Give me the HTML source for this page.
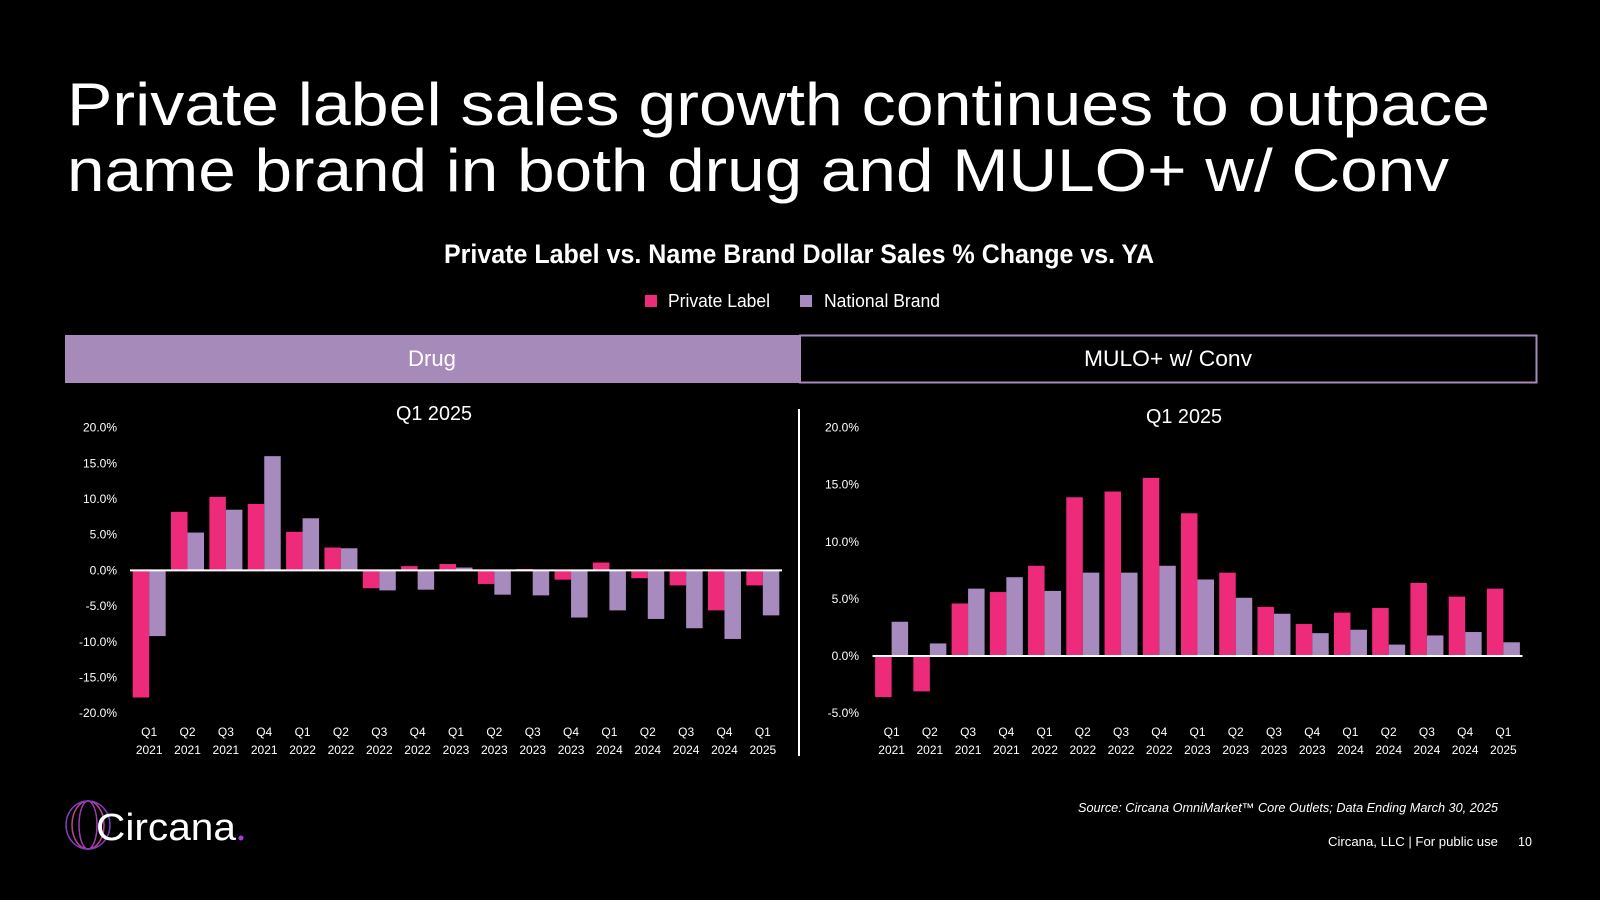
<!DOCTYPE html>
<html><head><meta charset="utf-8"><style>
html,body{margin:0;padding:0;background:#000;}
svg{display:block;}
text{font-family:"Liberation Sans",sans-serif;fill:#fff;}
</style></head><body>
<svg id="s" width="1600" height="900" viewBox="0 0 1600 900">
<rect width="1600" height="900" fill="#000"/>
<text x="67" y="125" font-size="60" textLength="1423" lengthAdjust="spacingAndGlyphs">Private label sales growth continues to outpace</text>
<text x="67" y="191" font-size="60" textLength="1382" lengthAdjust="spacingAndGlyphs">name brand in both drug and MULO+ w/ Conv</text>
<text x="799" y="263" font-size="27" font-weight="bold" text-anchor="middle" textLength="710" lengthAdjust="spacingAndGlyphs">Private Label vs. Name Brand Dollar Sales % Change vs. YA</text>
<g>
<rect x="645" y="295" width="12" height="12" fill="#ee2a7b"/>
<text x="668" y="307" font-size="18" textLength="102" lengthAdjust="spacingAndGlyphs">Private Label</text>
<rect x="800" y="295" width="12" height="12" fill="#a78bbf"/>
<text x="824" y="307" font-size="18" textLength="116" lengthAdjust="spacingAndGlyphs">National Brand</text>
</g>
<rect x="65" y="335" width="735" height="48" fill="#a68aba"/>
<text x="432" y="366" font-size="22" text-anchor="middle" textLength="48" lengthAdjust="spacingAndGlyphs">Drug</text>
<rect x="800" y="335.5" width="736.5" height="47" fill="none" stroke="#a68aba" stroke-width="2"/>
<text x="1168" y="366" font-size="22" text-anchor="middle" textLength="168" lengthAdjust="spacingAndGlyphs">MULO+ w/ Conv</text>
<line x1="799" y1="409" x2="799" y2="756" stroke="#fff" stroke-width="2"/>
<text x="434" y="420" font-size="20" text-anchor="middle" textLength="76" lengthAdjust="spacingAndGlyphs">Q1 2025</text>
<text x="1184" y="423" font-size="20" text-anchor="middle" textLength="76" lengthAdjust="spacingAndGlyphs">Q1 2025</text>
<g id="left"></g><g id="right"></g>
<text x="1498" y="812" font-size="12.5" font-style="italic" text-anchor="end" textLength="420" lengthAdjust="spacingAndGlyphs">Source: Circana OmniMarket™ Core Outlets; Data Ending March 30, 2025</text>
<text x="1498" y="846" font-size="12.5" text-anchor="end" textLength="170" lengthAdjust="spacingAndGlyphs">Circana, LLC |  For public use</text>
<text x="1525" y="846" font-size="12.5" text-anchor="middle">10</text>
<g>
<ellipse cx="88" cy="825" rx="9" ry="24" fill="none" stroke="#9b3fb0" stroke-width="1.5"/>
<ellipse cx="88" cy="825" rx="16" ry="24" fill="none" stroke="#c2408f" stroke-width="1.5"/>
<ellipse cx="88" cy="825" rx="22" ry="24" fill="none" stroke="#7a3fc0" stroke-width="1.5"/>
<text x="96" y="840" font-size="38" textLength="140" lengthAdjust="spacingAndGlyphs">Circana</text>
<circle cx="241" cy="838" r="2.5" fill="#a040e0"/>
</g>
</svg>
<script>
const categories = ["Q1 2021","Q2 2021","Q3 2021","Q4 2021","Q1 2022","Q2 2022","Q3 2022","Q4 2022","Q1 2023","Q2 2023","Q3 2023","Q4 2023","Q1 2024","Q2 2024","Q3 2024","Q4 2024","Q1 2025"];
const drugPrivate = [-17.8,8.2,10.3,9.3,5.4,3.2,-2.5,0.6,0.9,-1.9,0.2,-1.3,1.1,-1.1,-2.1,-5.6,-2.1];
const drugNational = [-9.2,5.3,8.5,16.0,7.3,3.1,-2.8,-2.7,0.4,-3.4,-3.5,-6.6,-5.6,-6.8,-8.1,-9.6,-6.3];
const muloPrivate = [-3.6,-3.1,4.6,5.6,7.9,13.9,14.4,15.6,12.5,7.3,4.3,2.8,3.8,4.2,6.4,5.2,5.9];
const muloNational = [3.0,1.1,5.9,6.9,5.7,7.3,7.3,7.9,6.7,5.1,3.7,2.0,2.3,1.0,1.8,2.1,1.2];
const drugTicks = [20,15,10,5,0,-5,-10,-15,-20];
const muloTicks = [20,15,10,5,0,-5];
const NS="http://www.w3.org/2000/svg";
function mk(tag,attrs,parent){const e=document.createElementNS(NS,tag);for(const k in attrs)e.setAttribute(k,attrs[k]);parent.appendChild(e);return e;}
function chart(g,x0,x1,yTop,vTop,yZero,ticks,pl,nb,tickX){
  const band=(x1-x0)/categories.length;
  const y=v=>yZero-(yZero-yTop)*v/vTop;
  ticks.forEach(t=>{
    const e=mk('text',{x:tickX,y:y(t)+4,'font-size':12,'text-anchor':'end'},g);
    
    
    e.textContent=t.toFixed(1)+'%';
  });
  categories.forEach((c,i)=>{
    const cx=x0+band*(i+0.5);const bw=16.5;
    [[pl[i],'#ee2a7b',cx-bw],[nb[i],'#a78bbf',cx]].forEach(([v,col,bx],j)=>{
      const r=mk('rect',{x:bx,y:Math.min(y(v),yZero),width:bw,height:Math.abs(y(v)-yZero),fill:col},g);
      
      
    });
    const p=c.split(' ');
    const t1=mk('text',{x:cx,y:736,'font-size':12,'text-anchor':'middle'},g);
    
    
    t1.textContent=p[0];
    const t2=mk('text',{x:cx,y:754,'font-size':12,'text-anchor':'middle'},g);
    
    
    t2.textContent=p[1];
  });
  const l=mk('line',{x1:x0,x2:x1,y1:yZero,y2:yZero,stroke:'#fff','stroke-width':2},g);
  
  
}
chart(document.getElementById('left'),130,782,427.6,20,570.4,drugTicks,drugPrivate,drugNational,117);
chart(document.getElementById('right'),872.5,1522.5,427.6,20,656,muloTicks,muloPrivate,muloNational,859);
</script>
</body></html>
